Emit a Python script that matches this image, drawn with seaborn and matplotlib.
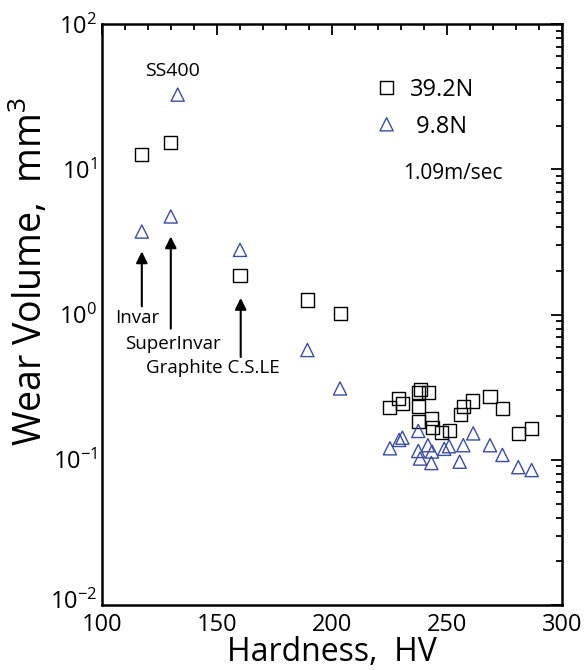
import numpy as np
import pandas as pd
import matplotlib
matplotlib.use('Agg')
import matplotlib.pyplot as plt
import matplotlib.ticker as mticker
import matplotlib.transforms as mtransforms
import seaborn as sns

# 39.2N load (squares)
hv_392 = [117.3, 129.9, 160.0, 189.3, 203.5,
          225.0, 229.0, 230.7, 237.5, 238.3, 241.9, 237.7, 237.7, 243.3, 243.7,
          247.8, 250.9, 255.7, 257.1, 261.0, 268.7, 274.0, 281.0, 286.8]
wear_392 = [12.6, 15.4, 1.85, 1.26, 1.02,
            0.229, 0.265, 0.246, 0.291, 0.305, 0.289, 0.232, 0.184, 0.193, 0.166,
            0.153, 0.159, 0.206, 0.232, 0.254, 0.274, 0.226, 0.152, 0.164]

# 9.8N load (triangles)
hv_98 = [132.9, 117.3, 129.9, 160.0, 189.3, 203.5,
         225.2, 229.2, 230.6, 237.5, 237.5, 238.3, 241.7, 243.5, 243.2,
         248.8, 250.9, 255.5, 257.1, 261.4, 268.7, 274.1, 281.0, 286.8]
wear_98 = [32.7, 3.73, 4.74, 2.79, 0.57, 0.31,
           0.120, 0.137, 0.142, 0.158, 0.115, 0.102, 0.126, 0.114, 0.095,
           0.119, 0.124, 0.097, 0.126, 0.152, 0.126, 0.108, 0.089, 0.085]

df392 = pd.DataFrame({'hv': hv_392, 'wear': wear_392})
df98 = pd.DataFrame({'hv': hv_98, 'wear': wear_98})

sns.set_style('white')
plt.rcParams['font.family'] = ['Open Sans', 'DejaVu Sans']
plt.rcParams['mathtext.fontset'] = 'custom'
plt.rcParams['mathtext.rm'] = 'Open Sans'
for k in ['text.color', 'axes.labelcolor', 'xtick.color', 'ytick.color']:
    plt.rcParams[k] = 'black'

blue = '#3b4ba3'

fig, ax = plt.subplots(figsize=(5.84, 6.70), dpi=100)
fig.subplots_adjust(left=0.1747, right=0.9623, top=0.964, bottom=0.097)

sns.scatterplot(data=df392, x='hv', y='wear', marker='s', s=88,
                facecolors='none', edgecolor='black', linewidth=1.0,
                label='39.2N', ax=ax)
sns.scatterplot(data=df98, x='hv', y='wear', marker='^', s=90,
                facecolors='none', edgecolor=blue, linewidth=1.0,
                label=' 9.8N', ax=ax)

ax.set_yscale('log')
ax.set_xlim(100, 300)
ax.set_ylim(1e-2, 1e2)
ax.xaxis.set_major_locator(mticker.MultipleLocator(50))
ax.xaxis.set_minor_locator(mticker.MultipleLocator(10))
ax.yaxis.set_major_locator(mticker.LogLocator(base=10))
ax.yaxis.set_minor_locator(mticker.LogLocator(base=10, subs=np.arange(2, 10)))
ax.yaxis.set_major_formatter(mticker.LogFormatterMathtext())

ax.tick_params(which='both', direction='in', top=True, right=True,
               labelsize=17, width=1.3, color='black')
ax.tick_params(which='major', length=8)
ax.tick_params(which='minor', length=4)
ax.tick_params(axis='x', pad=6)
for sp in ax.spines.values():
    sp.set_linewidth(1.8)
    sp.set_color('black')

ax.set_xlabel('Hardness,  HV', fontsize=23, labelpad=-1)
ax.set_ylabel(r'Wear Volume,  mm$\mathregular{^3}$', fontsize=27)
ax.yaxis.set_label_coords(-0.112, 0.574)

leg = ax.legend(loc='upper left', bbox_to_anchor=(0.593, 0.908), frameon=False,
                fontsize=17, handlelength=1.0, handletextpad=0.5,
                labelspacing=0.55, borderpad=0, borderaxespad=0,
                scatteryoffsets=[0.5])

ax.text(252.4, 9.4, '1.09m/sec', fontsize=15, ha='center', va='center')

# material labels and arrows
ax.text(130.7, 47.9, 'SS400', fontsize=14, ha='center', va='center')
ax.text(115.2, 0.94, 'Invar', fontsize=13.5, ha='center', va='center')
ax.text(130.9, 0.63, 'SuperInvar', fontsize=13.5, ha='center', va='center')
ax.text(148.3, 0.43, 'Graphite C.S.LE', fontsize=13.5, ha='center', va='center')

arrow = dict(arrowstyle='-|>', color='black', lw=1.5, mutation_scale=17,
             shrinkA=0, shrinkB=0)
ax.annotate('', xy=(117.3, 2.72), xytext=(117.3, 1.14), arrowprops=arrow)
ax.annotate('', xy=(129.9, 3.45), xytext=(129.9, 0.80), arrowprops=arrow)
ax.annotate('', xy=(160.3, 1.30), xytext=(160.3, 0.51), arrowprops=arrow)

# nudge the bottom y label up a little so it doesn't sit on "100"
fig.canvas.draw()
for lbl in ax.get_yticklabels():
    if '-2' in lbl.get_text() or '{-2}' in lbl.get_text() or '−2' in lbl.get_text():
        lbl.set_transform(lbl.get_transform() +
                          mtransforms.ScaledTranslation(0, 4 / 72, fig.dpi_scale_trans))

fig.savefig('out.png', dpi=100)
